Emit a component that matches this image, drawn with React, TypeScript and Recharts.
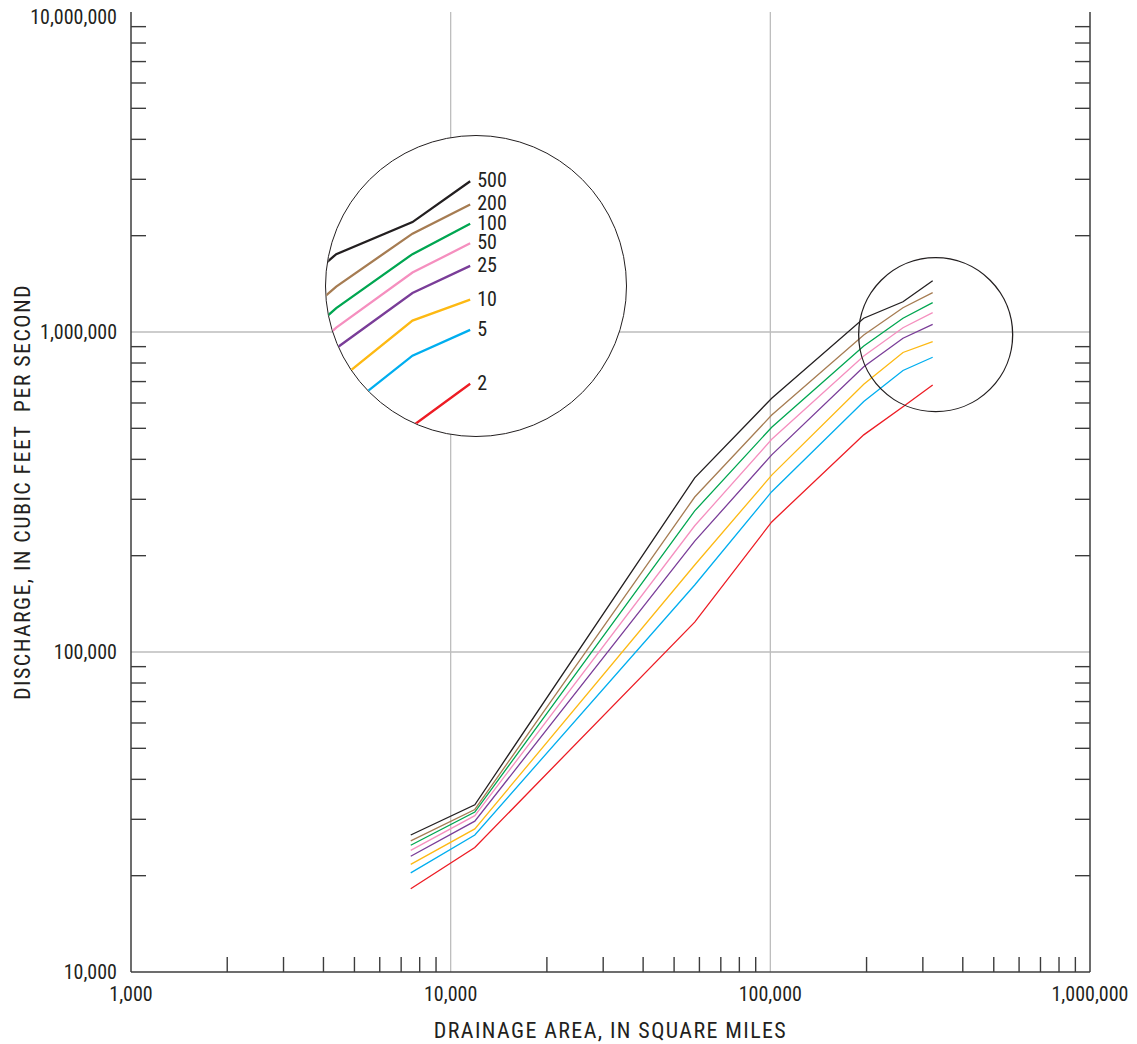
import React from 'react';
import { LineChart, Line, XAxis, YAxis, ReferenceLine, ReferenceDot, Label, LabelList } from 'recharts';

// drainage area (square miles) at each break in the curves
const AREA = [7500, 11900, 58000, 101000, 196000, 260000, 322000];

// discharge (cfs) for each recurrence interval
const Q2 = [18200, 24500, 124000, 255000, 477000, 584000, 683000];
const Q5 = [20400, 26800, 162000, 317000, 606000, 758000, 834000];
const Q10 = [21700, 28000, 187000, 357000, 687000, 863000, 933000];
const Q25 = [23000, 29600, 222000, 413000, 779000, 956000, 1057000];
const Q50 = [24000, 30800, 248000, 462000, 841000, 1031000, 1149000];
const Q100 = [24900, 31600, 276000, 504000, 904000, 1104000, 1235000];
const Q200 = [25700, 32200, 305000, 550000, 979000, 1191000, 1327000];
const Q500 = [26800, 33300, 350000, 621000, 1104000, 1243000, 1446000];

const INTERVALS = ['2', '5', '10', '25', '50', '100', '200', '500'];
const COLORS = ['#ed1c24', '#00aeef', '#fdb913', '#7a3d98', '#f58fbf', '#00a651', '#a67c52', '#231f20'];

const X_MAJOR = [1000, 10000, 100000, 1000000];
const X_LABELS = ['1,000', '10,000', '100,000', '1,000,000'];
const Y_MAJOR = [10000, 100000, 1000000, 10000000];
const Y_LABELS = ['10,000', '100,000', '1,000,000', '10,000,000'];
const MINOR = [2, 3, 4, 5, 6, 7, 8, 9];

// zoomed circle: centre of the magnified region and the inset's domains
const ZOOM_CENTER = { area: 329000, q: 981000 };
const INSET_X = [188700, 573700];
const INSET_Y = [562800, 1710000];

const X_TICKS = X_MAJOR.flatMap((m, i) => (i < X_MAJOR.length - 1 ? [m, ...MINOR.map(k => k * m)] : [m]));
const Y_TICKS = Y_MAJOR.flatMap((m, i) => (i < Y_MAJOR.length - 1 ? [m, ...MINOR.map(k => k * m)] : [m]));

const SERIES = [Q2, Q5, Q10, Q25, Q50, Q100, Q200, Q500];
const rows = AREA.map((a, i) => {
  const r: Record<string, any> = { area: a };
  INTERVALS.forEach((name, s) => {
    r['q' + name] = SERIES[s][i];
    r['lab' + name] = i === AREA.length - 1 ? name : undefined;
  });
  return r;
});

const FONT = '"Liberation Sans Narrow", "Arial Narrow", "Roboto Condensed", "DejaVu Sans Condensed", sans-serif';
const INK = '#231f20';
const AXIS = '#3c3c3c';
const GRID = '#bdbdbd';
const TICK = 15;

const XTick = (props: any) => {
  const { x, y, payload } = props;
  const idx = X_MAJOR.indexOf(payload.value);
  if (idx >= 0) {
    return (
      <text x={x} y={y + 29} textAnchor="middle" fontSize={20} fill={INK} fontFamily={FONT}>
        {X_LABELS[idx]}
      </text>
    );
  }
  return <line x1={x} x2={x} y1={y} y2={y - TICK} stroke={AXIS} strokeWidth={1.4} />;
};

const YTickLeft = (props: any) => {
  const { x, y, payload } = props;
  const idx = Y_MAJOR.indexOf(payload.value);
  if (idx >= 0) {
    return (
      <text x={x - 14} y={Math.max(y, 17)} textAnchor="end" dominantBaseline="central" fontSize={20} fill={INK} fontFamily={FONT}>
        {Y_LABELS[idx]}
      </text>
    );
  }
  return <line x1={x} x2={x + TICK} y1={y} y2={y} stroke={AXIS} strokeWidth={1.4} />;
};

const YTickRight = (props: any) => {
  const { x, y, payload } = props;
  if (Y_MAJOR.indexOf(payload.value) >= 0) return <g />;
  return <line x1={x} x2={x - TICK} y1={y} y2={y} stroke={AXIS} strokeWidth={1.4} />;
};

const endLabel = (p: any) => {
  if (p.value === undefined || p.value === null || p.value === '') return null;
  return (
    <text x={p.x + 7} y={p.y - 1} dominantBaseline="central" fontSize={20} fill={INK} fontFamily={FONT}>
      {p.value}
    </text>
  );
};

const W = 1137;
const H = 1044;

export default function App() {
  return (
    <div style={{ position: 'absolute', left: 0, top: 0, width: W, height: H, background: '#fff', fontFamily: FONT }}>
      <LineChart width={W} height={H} data={rows} margin={{ top: 12, right: 37, bottom: 0, left: 0 }}>
        <XAxis
          xAxisId="b"
          dataKey="area"
          type="number"
          scale="log"
          domain={[1000, 1000000]}
          allowDataOverflow
          ticks={X_TICKS}
          interval={0}
          tickSize={0}
          tickMargin={0}
          tickLine={false}
          tick={XTick}
          axisLine={{ stroke: AXIS, strokeWidth: 1.5 }}
          height={72}
        >
          <Label
            value="DRAINAGE AREA, IN SQUARE MILES"
            position="insideBottom"
            offset={6}
            fontSize={22}
            letterSpacing={1.4}
            fill={INK}
            fontFamily={FONT}
          />
        </XAxis>
        <XAxis
          xAxisId="t"
          orientation="top"
          dataKey="area"
          type="number"
          scale="log"
          domain={[1000, 1000000]}
          allowDataOverflow
          tick={false}
          tickLine={false}
          axisLine={{ stroke: AXIS, strokeWidth: 1.5 }}
          height={0}
        />
        <YAxis
          yAxisId="l"
          type="number"
          scale="log"
          domain={[10000, 10000000]}
          allowDataOverflow
          ticks={Y_TICKS}
          interval={0}
          tickSize={0}
          tickMargin={0}
          tickLine={false}
          tick={YTickLeft}
          axisLine={{ stroke: AXIS, strokeWidth: 1.5 }}
          width={131}
        >
          <Label
            content={(p: any) => {
              const vb = p.viewBox || { x: 0, y: 12, height: 960 };
              const cx = vb.x + 22;
              const cy = vb.y + vb.height / 2;
              return (
                <text
                  x={cx}
                  y={cy}
                  transform={`rotate(-90 ${cx} ${cy})`}
                  textAnchor="middle"
                  dominantBaseline="central"
                  fontSize={22}
                  letterSpacing={1.4}
                  fill={INK}
                  fontFamily={FONT}
                  style={{ whiteSpace: 'pre' }}
                >
                  {'DISCHARGE, IN CUBIC FEET  PER SECOND'}
                </text>
              );
            }}
          />
        </YAxis>
        <YAxis
          yAxisId="r"
          orientation="right"
          type="number"
          scale="log"
          domain={[10000, 10000000]}
          allowDataOverflow
          ticks={Y_TICKS}
          interval={0}
          tickSize={0}
          tickMargin={0}
          tickLine={false}
          tick={YTickRight}
          axisLine={{ stroke: AXIS, strokeWidth: 1.5 }}
          width={10}
        />
        {X_MAJOR.slice(1, -1).map(v => (
          <ReferenceLine key={'gx' + v} xAxisId="b" yAxisId="l" x={v} stroke={GRID} strokeWidth={1.3} />
        ))}
        {Y_MAJOR.slice(1, -1).map(v => (
          <ReferenceLine key={'gy' + v} xAxisId="b" yAxisId="l" y={v} stroke={GRID} strokeWidth={1.3} />
        ))}
        {INTERVALS.map((name, s) => (
          <Line
            key={name}
            xAxisId="b"
            yAxisId="l"
            dataKey={'q' + name}
            stroke={COLORS[s]}
            strokeWidth={1.3}
            dot={false}
            type="linear"
            isAnimationActive={false}
          />
        ))}
        <ReferenceDot
          xAxisId="b"
          yAxisId="l"
          x={ZOOM_CENTER.area}
          y={ZOOM_CENTER.q}
          r={77}
          fill="none"
          stroke={INK}
          strokeWidth={1.3}
        />
      </LineChart>

      <div
        style={{
          position: 'absolute',
          left: 325.3,
          top: 134.5,
          width: 300,
          height: 300,
          borderRadius: '50%',
          border: `1.3px solid ${INK}`,
          overflow: 'hidden',
          background: '#fff',
        }}
      >
        <LineChart width={300} height={300} data={rows} margin={{ top: 0, right: 0, bottom: 0, left: 0 }}>
          <XAxis dataKey="area" type="number" scale="log" domain={INSET_X} allowDataOverflow hide />
          <YAxis type="number" scale="log" domain={INSET_Y} allowDataOverflow hide />
          {INTERVALS.map((name, s) => (
            <Line
              key={name}
              dataKey={'q' + name}
              stroke={COLORS[s]}
              strokeWidth={2.3}
              dot={false}
              type="linear"
              isAnimationActive={false}
            >
              <LabelList dataKey={'lab' + name} content={endLabel} />
            </Line>
          ))}
        </LineChart>
      </div>
    </div>
  );
}
